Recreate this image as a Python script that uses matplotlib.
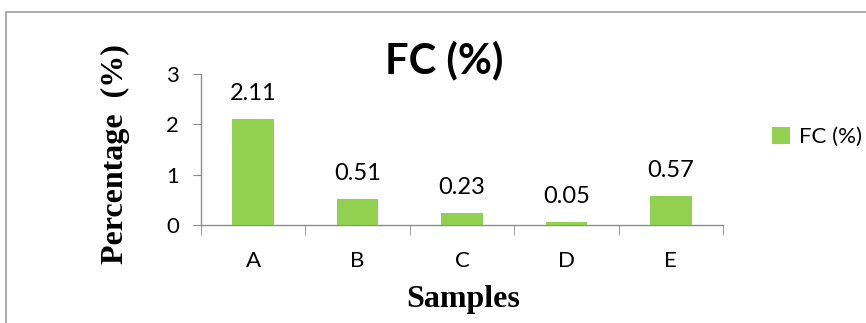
import numpy as np
import matplotlib.pyplot as plt
from matplotlib.patches import Rectangle

samples = ["A", "B", "C", "D", "E"]
fc_values = [2.11, 0.51, 0.23, 0.05, 0.57]
fc_labels = ["2.11", "0.51", "0.23", "0.05", "0.57"]
yticks = [0, 1, 2, 3]

green = "#92D050"
axis_gray = "#8C8C8C"

fig = plt.figure(figsize=(8.66, 3.23), dpi=100)
ax = fig.add_axes([201/866, 1-225/323, (723-201)/866, (225-74)/323])

x = np.arange(len(samples))
bars = ax.bar(x, fc_values, width=0.4, color=green, label="FC (%)", zorder=3)
for xi, v, lab in zip(x, fc_values, fc_labels):
    ax.text(xi, v + 0.3, lab, ha="center", va="bottom", fontsize=17, family="Lato")

ax.set_xlim(-0.5, len(samples) - 0.5)
ax.set_ylim(0, 3)
ax.set_yticks(yticks)
ax.set_xticks(x)
ax.set_xticklabels(samples, family="Lato", fontsize=16)
ax.set_yticklabels([str(t) for t in yticks], family="Lato", fontsize=16)
ax.set_xticks(np.arange(-0.5, len(samples)), minor=True)
ax.tick_params(axis="x", which="major", length=0, pad=19)
ax.tick_params(axis="x", which="minor", length=7, color=axis_gray, direction="out")
ax.tick_params(axis="y", length=6, color=axis_gray, direction="out", pad=10)

for s in ["top", "right"]:
    ax.spines[s].set_visible(False)
for s in ["left", "bottom"]:
    ax.spines[s].set_color(axis_gray)
    ax.spines[s].set_linewidth(1.0)

fig.text(444/866, 1-60/323, "FC (%)", ha="center", va="center", fontsize=30,
         fontweight="bold", family="Lato")
fig.text(115/866, 1-154/323, "Percentage  (%)", ha="center", va="center", rotation=90,
         fontsize=23, fontweight="bold", family="Liberation Serif")
fig.text(463/866, 1-300/323, "Samples", ha="center", va="center", fontsize=23,
         fontweight="bold", family="Liberation Serif")

fig.legend(handles=[bars], labels=["FC (%)"], loc="center left",
           bbox_to_anchor=(772/866, 1-137/323), frameon=False, handlelength=0.8,
           handleheight=0.8, handletextpad=0.4, borderpad=0, borderaxespad=0,
           prop={"family": "Lato", "size": 16})

fig.patches.append(Rectangle((6/866, -0.1), 2, 1 - 12/323 + 0.1, transform=fig.transFigure,
                             fill=False, edgecolor="#A0A0A0", linewidth=1.2))

fig.savefig("out.png", dpi=100)
